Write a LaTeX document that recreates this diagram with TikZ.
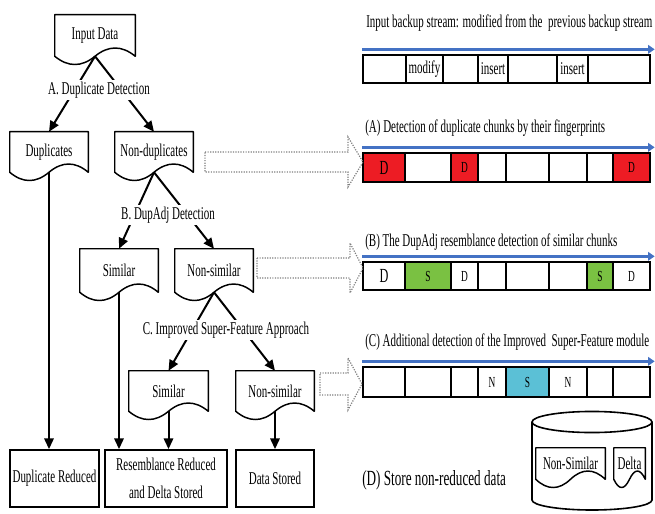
\documentclass[tikz,border=0pt]{standalone}
\usepackage{fontspec}
\setmainfont{Liberation Serif}[FakeStretch=0.61]
\usetikzlibrary{arrows.meta,calc}
\definecolor{streamblue}{RGB}{68,114,196}
\definecolor{dupred}{RGB}{237,28,36}
\definecolor{simgreen}{RGB}{122,193,66}
\definecolor{simcyan}{RGB}{91,192,214}
\newcommand\mkdoc[6]{%
  \node[docbox, minimum width={(#4-#2)*0.75pt}, minimum height={(#5-#3)*0.75pt}] (#1) at ({(#2+#4)/2},{(#3+#5)/2}) {#6};
  \draw[docline] (#1.south west) -- (#1.north west) -- (#1.north east) -- (#1.south east)
    .. controls ($(#1.south east)!1/6!(#1.south west)+(0,-11)$) and ($(#1.south east)!1/3!(#1.south west)+(0,-11)$) .. (#1.south)
    .. controls ($(#1.south east)!2/3!(#1.south west)+(0,11)$) and ($(#1.south east)!5/6!(#1.south west)+(0,11)$) .. (#1.south west) -- cycle;}
\newcommand\mkcell[7]{\node[cellbox, fill=#6, minimum width={(#3-#2)*0.75pt}, minimum height={(#5-#4)*0.75pt}] (#1) at ({(#2+#3)/2},{(#4+#5)/2}) {#7};}
\newcommand\bigletter[1]{{\fontsize{15}{15}\selectfont #1}}
\newcommand\lbltext[1]{{\fontsize{13.5}{15}\selectfont #1}}
\begin{document}
\begin{tikzpicture}[x=0.75pt,y=-0.75pt,
  txt/.style={font=\fontsize{13.5}{15}\selectfont, inner sep=0pt},
  docbox/.style={txt, draw=none},
  docline/.style={line width=1.1pt, line join=round},
  plainbox/.style={txt, draw, line width=1.3pt, align=center},
  arr/.style={line width=1.5pt, -{Triangle[length=8pt,width=7pt]}},
  steplabel/.style={txt, fill=white, inner sep=1.5pt},
  cellbox/.style={draw, line width=1pt, inner sep=0pt, font=\fontsize{11.5}{12}\selectfont},
  bluearrow/.style={draw=streamblue, line width=2.6pt, -{Triangle[length=5pt,width=6.5pt]}},
  hollow/.style={draw=black!50, densely dotted, line width=0.9pt, line join=miter}]

\useasboundingbox (0,0) rectangle (655,513);

% ---------- tree ----------
\mkdoc{inp}{55}{15}{135}{56}{Input Data}
\mkdoc{dup}{10}{132}{88}{172}{Duplicates}
\mkdoc{nd}{115}{132}{193}{172}{Non-duplicates}
\mkdoc{s2}{80}{249}{158}{292}{Similar}
\mkdoc{ns2}{175}{249}{253}{292}{Non-similar}
\mkdoc{s3}{129}{371}{208}{411}{Similar}
\mkdoc{ns3}{236}{371}{314}{411}{Non-similar}

\node[plainbox, minimum width={89*0.75pt}, minimum height={57*0.75pt}] (dr) at (54.5,478.5) {Duplicate Reduced};
\node[plainbox, minimum width={122*0.75pt}, minimum height={57*0.75pt}] (rr) at (166,478.5) {Resemblance Reduced\\[6.5pt]and Delta Stored};
\node[plainbox, minimum width={78*0.75pt}, minimum height={57*0.75pt}] (ds) at (275,478.5) {Data Stored};

\draw[arr] (inp.south) -- (dup.north);
\draw[arr] (inp.south) -- (nd.north);
\draw[arr] (nd.south) -- (s2.north);
\draw[arr] (nd.south) -- (ns2.north);
\draw[arr] (ns2.south) -- (s3.north);
\draw[arr] (ns2.south) -- (ns3.north);
\draw[arr] (dup.south) -- (dup.south |- dr.north);
\draw[arr] (s2.south) -- (s2.south |- rr.north);
\draw[arr] (s3.south) -- (s3.south |- rr.north);
\draw[arr] (ns3.south) -- (ns3.south |- ds.north);

\node[steplabel] (la) at (99,90) {A. Duplicate Detection};
\node[steplabel] (lb) at (168,215) {B. DupAdj Detection};
\node[steplabel] (lc) at (226,330) {C. Improved Super-Feature Approach};

% ---------- input stream ----------
\node[txt, anchor=west] (t0) at (366,23) {Input backup stream: modified from the~ previous backup stream};
\mkcell{i1}{363}{406}{55}{83}{white}{}
\mkcell{i2}{406}{443}{55}{83}{white}{\lbltext{modify}}
\mkcell{i3}{443}{478}{55}{83}{white}{}
\mkcell{i4}{478}{508}{55}{83}{white}{\lbltext{insert}}
\mkcell{i5}{508}{557}{55}{83}{white}{}
\mkcell{i6}{557}{588}{55}{83}{white}{\lbltext{insert}}
\mkcell{i7}{588}{650}{55}{83}{white}{}
\draw[bluearrow] ([yshift=3.75pt]i1.north west) -- ([yshift=3.75pt,xshift=3pt]i7.north east);

% ---------- (A) ----------
\node[txt, anchor=west] (ta) at (365,128) {(A) Detection of duplicate chunks by their fingerprints};
\mkcell{a1}{363}{405}{153}{182}{dupred}{\bigletter{D}}
\mkcell{a2}{405}{451}{153}{182}{white}{}
\mkcell{a3}{451}{478}{153}{182}{dupred}{D}
\mkcell{a4}{478}{506}{153}{182}{white}{}
\mkcell{a5}{506}{549}{153}{182}{white}{}
\mkcell{a6}{549}{587}{153}{182}{white}{}
\mkcell{a7}{587}{613}{153}{182}{white}{}
\mkcell{a8}{613}{650}{153}{182}{dupred}{D}
\draw[bluearrow] ([yshift=3.75pt]a1.north west) -- ([yshift=3.75pt,xshift=3pt]a8.north east);

% ---------- (B) ----------
\node[txt, anchor=west] (tb) at (365,242) {(B) The DupAdj resemblance detection of similar chunks};
\mkcell{b1}{363}{405}{262}{290}{white}{\bigletter{D}}
\mkcell{b2}{405}{451}{262}{290}{simgreen}{S}
\mkcell{b3}{451}{478}{262}{290}{white}{D}
\mkcell{b4}{478}{506}{262}{290}{white}{}
\mkcell{b5}{506}{549}{262}{290}{white}{}
\mkcell{b6}{549}{587}{262}{290}{white}{}
\mkcell{b7}{587}{613}{262}{290}{simgreen}{S}
\mkcell{b8}{613}{650}{262}{290}{white}{D}
\draw[bluearrow] ([yshift=3.75pt]b1.north west) -- ([yshift=3.75pt,xshift=3pt]b8.north east);

% ---------- (C) ----------
\node[txt, anchor=west] (tc) at (365,342) {(C) Additional detection of the Improved~ Super-Feature module};
\mkcell{c1}{363}{405}{367}{397}{white}{}
\mkcell{c2}{405}{451}{367}{397}{white}{}
\mkcell{c3}{451}{478}{367}{397}{white}{}
\mkcell{c4}{478}{506}{367}{397}{white}{N}
\mkcell{c5}{506}{549}{367}{397}{simcyan}{S}
\mkcell{c6}{549}{587}{367}{397}{white}{N}
\mkcell{c7}{587}{613}{367}{397}{white}{}
\mkcell{c8}{613}{650}{367}{397}{white}{}
\draw[bluearrow] ([yshift=3.75pt]c1.north west) -- ([yshift=3.75pt,xshift=3pt]c8.north east);

% ---------- hollow dotted arrows ----------
\draw[hollow] (205,152) -- (348,152) -- (348,137) -- (363,162) -- (348,187) -- (348,172) -- (205,172) -- cycle;
\draw[hollow] (257,258) -- (350,258) -- (350,243) -- (363,268) -- (350,293) -- (350,278) -- (257,278) -- cycle;
\draw[hollow] (320,373) -- (348,373) -- (348,358) -- (362,384) -- (348,410) -- (348,395) -- (320,395) -- cycle;

% ---------- (D) storage ----------
\node[font=\fontsize{16.2}{18}\selectfont, inner sep=0pt, anchor=west] (td) at (362,480) {(D) Store non-reduced data};
\draw[line width=1.2pt] (532,422) -- (532,500) arc[start angle=180, end angle=360, x radius=45pt, y radius=7.5pt] -- (652,422);
\draw[line width=1.2pt] (592,422) ellipse [x radius=45pt, y radius=7.9pt];
\mkdoc{ns4}{536}{448}{605}{479}{Non-Similar}
\mkdoc{de}{614}{448}{645}{479}{Delta}
\end{tikzpicture}
\end{document}
